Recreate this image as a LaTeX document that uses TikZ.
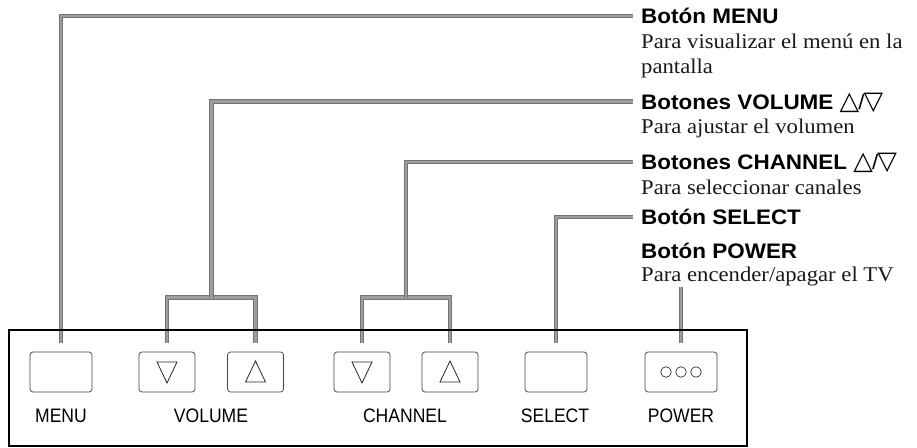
\documentclass[tikz,border=0pt]{standalone}
\usepackage{fontspec}
\setmainfont{Liberation Serif}
\newfontfamily\hdfont[FakeStretch=1.07]{Liberation Sans}
\newfontfamily\lblfont[FakeStretch=0.9]{Liberation Sans}
\newfontfamily\descfont[FakeStretch=1.08]{Liberation Serif}
\newfontfamily\symfont{DejaVu Sans}
\newcommand{\trisym}[1]{{\symfont\mdseries\fontsize{25.5}{25}\selectfont #1}}
\begin{document}
\begin{tikzpicture}[x=1pt,y=-1pt,
  conn/.style={draw=black!55, double=black!38, line width=0.85pt, double distance=2.9pt},
  btn/.style={draw=black!75, line width=0.7pt, rounded corners=3pt, minimum height=40pt, inner sep=0pt},
  hd/.style={anchor=west, inner sep=0pt, text height=15pt, text depth=0pt, font=\hdfont\bfseries\fontsize{21}{25}\selectfont},
  desc/.style={anchor=base west, inner sep=0pt, align=left, text=black!90, font=\descfont\fontsize{21}{25}\selectfont},
  lbl/.style={anchor=base, inner sep=0pt, font=\lblfont\fontsize{19.5}{23}\selectfont},
  tri/.style={draw=black!85, line width=0.8pt, line join=miter}
]
\useasboundingbox (0,0) rectangle (917,447);

% buttons
\node[btn, minimum width=62pt] (menu) at (61,372) {};
\node[btn, minimum width=56pt] (vold) at (167,372) {};
\node[btn, minimum width=56pt] (volu) at (255.5,372) {};
\node[btn, minimum width=56pt] (chd) at (362,372) {};
\node[btn, minimum width=56pt] (chu) at (450,372) {};
\node[btn, minimum width=62pt] (sel) at (556,372) {};
\node[btn, minimum width=72pt] (pow) at (681,372) {};

% button symbols
\foreach \b in {vold,chd}{
  \draw[tri] ([xshift=-10pt,yshift=10pt]\b.center) -- ([xshift=10pt,yshift=10pt]\b.center) -- ([yshift=-11pt]\b.center) -- cycle;
}
\foreach \b in {volu,chu}{
  \draw[tri] ([xshift=-10pt,yshift=-10pt]\b.center) -- ([xshift=10pt,yshift=-10pt]\b.center) -- ([yshift=11pt]\b.center) -- cycle;
}
\foreach \dx in {-15,0,15}{
  \draw[draw=black!80, line width=0.7pt] ([xshift=\dx pt]pow.center) circle (5.3pt);
}

% bottom labels
\node[lbl] (lmenu) at (61,422.5) {MENU};
\node[lbl] (lvol) at (211,422.5) {VOLUME};
\node[lbl] (lch) at (405,422.5) {CHANNEL};
\node[lbl] (lsel) at (555,422.5) {SELECT};
\node[lbl] (lpow) at (681,422.5) {POWER};

% right-hand headings and descriptions
\node[hd] (h1) at (641,16) {Botón MENU};
\node[desc] (d1) at (641,73.5) {Para visualizar el menú en la\\pantalla};
\node[hd] (h2) at (641,101.5) {Botones VOLUME \trisym{△}\kern-1pt{\mdseries/}\kern-1pt\trisym{▽}};
\node[desc] (d2) at (641,133) {Para ajustar el volumen};
\node[hd] (h3) at (641,162) {Botones CHANNEL \trisym{△}\kern-1pt{\mdseries/}\kern-1pt\trisym{▽}};
\node[desc] (d3) at (641,194.5) {Para seleccionar canales};
\node[hd] (h4) at (641,217) {Botón SELECT};
\node[hd] (h5) at (641,250.5) {Botón POWER};
\node[desc] (d5) at (641,281.5) {Para encender/apagar el TV};

% connectors
\coordinate (vj) at (211.5,297.5);
\coordinate (cj) at (406,297.5);
\coordinate (pe) at (681,287);
\draw[conn] ([yshift=9pt]menu.north) |- ([xshift=-8pt]h1.west);
\draw[conn] ([yshift=9pt]vold.north) |- (vj) -| ([yshift=9pt]volu.north);
\draw[conn] (vj) |- ([xshift=-8pt]h2.west);
\draw[conn] ([yshift=9pt]chd.north) |- (cj) -| ([yshift=9pt]chu.north);
\draw[conn] (cj) |- ([xshift=-8pt]h3.west);
\draw[conn] ([yshift=9pt]sel.north) |- ([xshift=-8pt]h4.west);
\draw[conn] ([yshift=9pt]pow.north) -- (pe);

% panel outline
\draw[line width=2pt] (9,330) rectangle (747,446);
\end{tikzpicture}
\end{document}
